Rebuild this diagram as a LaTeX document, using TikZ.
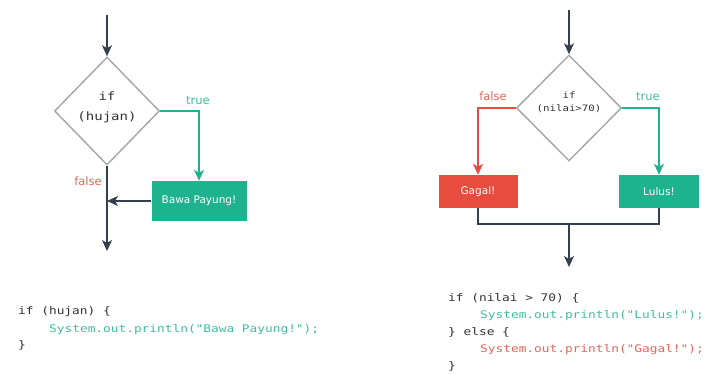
\documentclass[tikz,border=0pt]{standalone}
\usepackage{fontspec}
\usetikzlibrary{shapes.geometric,arrows.meta}
\newfontfamily\codefont[FakeStretch=1.22]{DejaVu Sans Mono}
\newfontfamily\labfont{DejaVu Sans}
\definecolor{arrowc}{RGB}{52,63,80}
\definecolor{teal1}{RGB}{30,178,142}
\definecolor{tealtxt}{RGB}{62,190,160}
\definecolor{red1}{RGB}{231,76,60}
\definecolor{redtxt}{RGB}{232,100,88}
\definecolor{dgray}{RGB}{170,170,170}
\definecolor{codegray}{RGB}{50,50,50}
\tikzset{
  tip/.style={-{Stealth[length=11pt,width=10pt,inset=3pt]}},
  arr/.style={draw=arrowc,line width=1.5pt,tip},
  plainline/.style={draw=arrowc,line width=1.5pt},
  trueline/.style={draw=teal1,line width=1.5pt,tip},
  falseline/.style={draw=red1,line width=1.5pt,tip},
  decision/.style={diamond,draw=dgray,line width=1.5pt,aspect=1,inner sep=0pt},
  dtext/.style={font=\codefont,text=codegray,align=center,inner sep=0pt},
  actbox/.style={rectangle,inner sep=0pt,text=white,font=\labfont\fontsize{10.5}{12}\selectfont},
  truelab/.style={font=\labfont\fontsize{11.5}{13}\selectfont,text=tealtxt,inner sep=0pt},
  falselab/.style={font=\labfont\fontsize{11.5}{13}\selectfont,text=redtxt,inner sep=0pt},
  codeline/.style={font=\codefont\fontsize{10.5}{12}\selectfont,anchor=base west,inner sep=0pt},
}
\begin{document}
\begin{tikzpicture}[x=1pt,y=-1pt]
\useasboundingbox (0,0) rectangle (705,374);
% ---------- left flowchart ----------
\coordinate (inL) at (107,15);
\node[decision,minimum width=105pt,minimum height=108pt] (d1) at (107,111) {};
\node[dtext,font=\codefont\fontsize{11.5}{20}\selectfont] (t1) at (107,107) {if\\(hujan)};
\node[actbox,fill=teal1,minimum width=95pt,minimum height=40pt] (b1) at (199,201) {Bawa Payung!};
\coordinate (outL) at (107,251);
\coordinate (jL) at (107,201);
\draw[arr] (inL) -- (d1.north);
\draw[trueline] (d1.east) -| (b1.north);
\draw[arr] (d1.south) -- (outL);
\draw[arr] (b1.west) -- (jL);
\node[truelab] (lt1) at (198,101) {true};
\node[falselab] (lf1) at (88,181) {false};
% ---------- right flowchart ----------
\coordinate (inR) at (569,10);
\node[decision,minimum width=105pt,minimum height=106pt] (d2) at (569,108) {};
\node[dtext,font=\codefont\fontsize{8.8}{13}\selectfont] (t2) at (569,102) {if\\(nilai>70)};
\node[actbox,fill=red1,minimum width=79pt,minimum height=33pt] (g) at (478,191.5) {Gagal!};
\node[actbox,fill=teal1,minimum width=80pt,minimum height=33pt] (l) at (659,191.5) {Lulus!};
\coordinate (mR) at (569,224);
\coordinate (outR) at (569,267);
\draw[arr] (inR) -- (d2.north);
\draw[falseline] (d2.west) -| (g.north);
\draw[trueline] (d2.east) -| (l.north);
\draw[plainline] (g.south) |- (mR) -| (l.south);
\draw[arr] (mR) -- (outR);
\node[falselab] (lf2) at (493,96) {false};
\node[truelab] (lt2) at (648,97) {true};
% ---------- code ----------
\node[codeline,text=codegray] (c1) at (18,315) {if (hujan) \{};
\node[codeline,text=tealtxt] (c2) at (49,333) {System.out.println("Bawa Payung!");};
\node[codeline,text=codegray] (c3) at (18,349) {\}};
\node[codeline,text=codegray] (r1) at (448,302) {if (nilai > 70) \{};
\node[codeline,text=tealtxt] (r2) at (480,319) {System.out.println("Lulus!");};
\node[codeline,text=codegray] (r3) at (448,336) {\} else \{};
\node[codeline,text=redtxt] (r4) at (480,353) {System.out.println("Gagal!");};
\node[codeline,text=codegray] (r5) at (448,369.5) {\}};
\end{tikzpicture}
\end{document}
